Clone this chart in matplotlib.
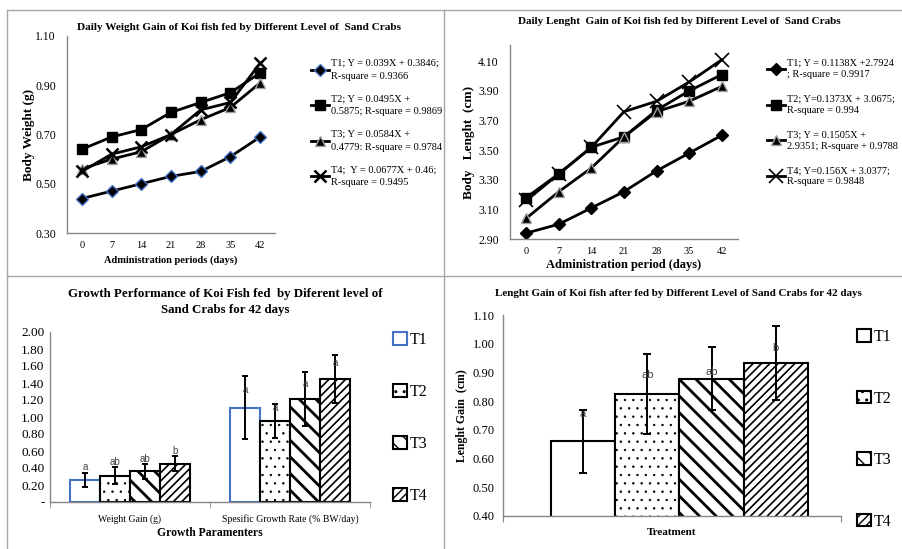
import matplotlib
matplotlib.use("Agg")
import matplotlib.pyplot as plt
from matplotlib.lines import Line2D
from matplotlib.patches import Patch
from matplotlib.ticker import FuncFormatter

plt.rcParams["font.family"] = ["Liberation Serif", "DejaVu Serif"]

# ---- data ----
DAYS = ["0", "7", "14", "21", "28", "35", "42"]

weight_t1 = [0.44, 0.47, 0.50, 0.53, 0.55, 0.61, 0.69]
weight_t2 = [0.64, 0.69, 0.72, 0.79, 0.83, 0.87, 0.95]
weight_t3 = [0.56, 0.60, 0.63, 0.70, 0.76, 0.81, 0.91]
weight_t4 = [0.55, 0.62, 0.65, 0.70, 0.80, 0.83, 0.99]
weight_labels = [
    "T1; Y = 0.039X + 0.3846;\nR-square = 0.9366",
    "T2; Y = 0.0495X +\n0.5875; R-square = 0.9869",
    "T3; Y = 0.0584X +\n0.4779: R-square = 0.9784",
    "T4;  Y = 0.0677X + 0.46;\nR-square = 0.9495",
]

length_t1 = [2.94, 3.00, 3.11, 3.22, 3.36, 3.48, 3.60]
length_t2 = [3.18, 3.34, 3.52, 3.59, 3.77, 3.90, 4.01]
length_t3 = [3.04, 3.22, 3.38, 3.59, 3.76, 3.83, 3.93]
length_t4 = [3.16, 3.34, 3.52, 3.76, 3.83, 3.96, 4.11]
length_labels = [
    "T1; Y = 0.1138X +2.7924\n; R-square = 0.9917",
    "T2; Y=0.1373X + 3.0675;\nR-square = 0.994",
    "T3; Y = 0.1505X +\n2.9351; R-square + 0.9788",
    "T4; Y=0.156X + 3.0377;\nR-square = 0.9848",
]

TREATMENTS = ["T1", "T2", "T3", "T4"]
GROWTH_PARAMS = ["Weight Gain (g)", "Spesific Growth Rate (% BW/day)"]
growth_mean = [[0.26, 1.11], [0.31, 0.95], [0.36, 1.21], [0.45, 1.45]]
growth_err = [[0.08, 0.37], [0.10, 0.20], [0.09, 0.32], [0.09, 0.28]]
growth_letters = [["a", "a"], ["ab", "a"], ["ab", "a"], ["b", "a"]]
growth_letter_y = [[0.41, 1.32], [0.47, 1.11], [0.50, 1.39], [0.60, 1.63]]

lgain_mean = [0.66, 0.825, 0.878, 0.933]
lgain_err = [0.11, 0.14, 0.11, 0.13]
lgain_letters = ["a", "ab", "ab", "b"]
lgain_letter_y = [0.756, 0.89, 0.90, 0.984]

W, H = 902, 549
fig = plt.figure(figsize=(W / 100, H / 100), dpi=100)


def fx(px):
    return px / W


def fy(py):
    return 1 - py / H


# panel frame lines
frame = "#a6a6a6"
for xs, ys in [((7, 902), (10, 10)), ((7, 7), (10, 549)),
               ((444, 444), (10, 549)), ((7, 902), (276, 276))]:
    fig.add_artist(Line2D([fx(x) for x in xs], [fy(y) for y in ys],
                          color=frame, lw=1))

spine_c = "#868686"


def style_axes(ax):
    for s in ("top", "right"):
        ax.spines[s].set_visible(False)
    for s in ("left", "bottom"):
        ax.spines[s].set_color(spine_c)
        ax.spines[s].set_linewidth(1)


def set_legend_linespacing(leg, ls):
    for t in leg.get_texts():
        t.set_linespacing(ls)


line_styles = [
    dict(marker="D", ms=6.5, mfc="black", mec="#4472c4", mew=1.0),
    dict(marker="s", ms=6.5, mfc="black", mec="black"),
    dict(marker="^", ms=7, mfc="black", mec="#a0a0a0", mew=1.0),
    dict(marker="x", ms=9, mec="black", mew=1.8),
]

# ---- top-left: daily weight ----
ax1 = fig.add_axes([fx(67), fy(233), fx(275) - fx(67), fy(36) - fy(233)])
style_axes(ax1)
xs = range(len(DAYS))
handles = []
for ys, st, lab in zip([weight_t1, weight_t2, weight_t3, weight_t4],
                       line_styles, weight_labels):
    h, = ax1.plot(xs, ys, color="black", lw=2, label=lab, **st)
    handles.append(h)
ax1.set_xlim(-0.5, 6.5)
ax1.set_ylim(0.3, 1.1)
ax1.set_yticks([0.3, 0.5, 0.7, 0.9, 1.1])
ax1.yaxis.set_major_formatter(FuncFormatter(lambda v, p: f"{v:.2f}"))
ax1.set_xticks(list(xs), DAYS)
ax1.tick_params(axis="x", length=0, labelsize=7.5, pad=6)
ax1.tick_params(axis="y", length=0, labelsize=8.5, pad=8)
ax1.set_ylabel("Body Weight (g)", labelpad=0, fontsize=9.5, fontweight="bold")
ax1.set_xlabel("Administration periods (days)", labelpad=4, fontsize=7.5, fontweight="bold")
fig.text(fx(239), fy(27), "Daily Weight Gain of Koi fish fed by Different Level of  Sand Crabs",
         ha="center", va="center", fontsize=8.1, fontweight="bold")
leg = fig.legend(handles=handles, loc="upper left", bbox_to_anchor=(fx(311), fy(59)),
                 frameon=False, fontsize=7.5, handlelength=1.7, handletextpad=0.2,
                 labelspacing=1.3, borderpad=0, borderaxespad=0)
set_legend_linespacing(leg, 1.55)

# ---- top-right: daily length ----
ax2 = fig.add_axes([fx(510), fy(239), fx(738) - fx(510), fy(45) - fy(239)])
style_axes(ax2)
line_styles2 = [dict(line_styles[0], mec="black"), line_styles[1], line_styles[2],
                dict(marker="x", ms=10, mec="black", mew=1.2)]
handles = []
for ys, st, lab in zip([length_t1, length_t2, length_t3, length_t4],
                       line_styles2, length_labels):
    h, = ax2.plot(xs, ys, color="black", lw=2, label=lab, **st)
    handles.append(h)
ax2.set_xlim(-0.5, 6.5)
ax2.set_ylim(2.9, 4.21)
ax2.set_yticks([2.9, 3.1, 3.3, 3.5, 3.7, 3.9, 4.1])
ax2.yaxis.set_major_formatter(FuncFormatter(lambda v, p: f"{v:.2f}"))
ax2.set_xticks(list(xs), DAYS)
ax2.tick_params(axis="x", length=0, labelsize=7.5, pad=6)
ax2.tick_params(axis="y", length=0, labelsize=8.5, pad=8)
ax2.set_ylabel("Body   Lenght  (cm)", labelpad=2, fontsize=9.5, fontweight="bold")
ax2.set_xlabel("Administration period (days)", labelpad=2, fontsize=9, fontweight="bold")
fig.text(fx(679), fy(22), "Daily Lenght  Gain of Koi fish fed by Different Level of  Sand Crabs",
         ha="center", va="center", fontsize=8.0, fontweight="bold")
leg = fig.legend(handles=handles, loc="upper left", bbox_to_anchor=(fx(767), fy(59)),
                 frameon=False, fontsize=7.5, handlelength=1.7, handletextpad=0.2,
                 labelspacing=1.5, borderpad=0, borderaxespad=0)
set_legend_linespacing(leg, 1.3)

# ---- bar styles ----
bar_styles = [
    dict(edgecolor="#4472c4", hatch=None, hlw=1.0),
    dict(edgecolor="black", hatch="..", hlw=0.5),
    dict(edgecolor="black", hatch="\\\\", hlw=2.0),
    dict(edgecolor="black", hatch="////", hlw=1.2),
]

# ---- bottom-left: growth performance ----
ax3 = fig.add_axes([fx(50), fy(502), fx(370) - fx(50), fy(332) - fy(502)])
style_axes(ax3)
bw = 0.1875
for i, st in enumerate(bar_styles):
    pos = [g + (i - 1.5) * bw for g in range(len(GROWTH_PARAMS))]
    with plt.rc_context({"hatch.linewidth": st["hlw"]}):
        ax3.bar(pos, growth_mean[i], width=bw, facecolor="white",
                edgecolor=st["edgecolor"], hatch=st["hatch"], lw=1.5, zorder=2)
    ax3.errorbar(pos, growth_mean[i], yerr=growth_err[i], fmt="none",
                 ecolor="black", elinewidth=1.4, capsize=2.5, capthick=1.4, zorder=3)
    for x, y, t in zip(pos, growth_letter_y[i], growth_letters[i]):
        ax3.text(x, y, t, ha="center", va="center", fontsize=7,
                 family="Liberation Sans", color="#404040", zorder=4)
ax3.set_xlim(-0.5, 1.5)
ax3.set_ylim(0, 2.0)
ax3.set_yticks([0.2 * k for k in range(11)])
ax3.yaxis.set_major_formatter(FuncFormatter(lambda v, p: "-" if abs(v) < 1e-9 else f"{v:.2f}"))
ax3.set_xticks([0, 1], GROWTH_PARAMS)
ax3.set_xticks([-0.5, 0.5, 1.5], minor=True)
ax3.tick_params(axis="x", which="major", length=0, labelsize=7, pad=9)
ax3.tick_params(axis="x", which="minor", length=4, color=spine_c)
ax3.tick_params(axis="y", length=0, labelsize=9.5, pad=4)
ax3.set_xlabel("Growth Paramenters", labelpad=2, fontsize=8.4, fontweight="bold")
fig.text(fx(225), fy(302), "Growth Performance of Koi Fish fed  by Diferent level of\nSand Crabs for 42 days",
         ha="center", va="center", fontsize=9.3, fontweight="bold", linespacing=1.45)
leg_handles = [Patch(facecolor="white", edgecolor=st["edgecolor"], hatch=st["hatch"], lw=1.5)
               for st in bar_styles]
fig.legend(leg_handles, TREATMENTS, loc="upper left", bbox_to_anchor=(fx(393), fy(332)),
           frameon=False, fontsize=11.5, handlelength=0.85, handleheight=0.85,
           handletextpad=0.2, labelspacing=2.25, borderpad=0, borderaxespad=0)

# ---- bottom-right: length gain ----
ax4 = fig.add_axes([fx(503), fy(516), fx(841) - fx(503), fy(315) - fy(516)])
style_axes(ax4)
bw4 = 0.19
shift = 0.022
for i, st in enumerate(bar_styles):
    x = shift + (i - 1.5) * bw4
    with plt.rc_context({"hatch.linewidth": st["hlw"]}):
        ax4.bar([x], [lgain_mean[i]], width=bw4, facecolor="white", edgecolor="black",
                hatch=st["hatch"], lw=1.5, zorder=2)
    ax4.errorbar([x], [lgain_mean[i]], yerr=[lgain_err[i]], fmt="none",
                 ecolor="black", elinewidth=1.4, capsize=3, capthick=1.4, zorder=3)
    ax4.text(x, lgain_letter_y[i], lgain_letters[i], ha="center", va="center",
             fontsize=8, family="Liberation Sans", color="#404040", zorder=4)
ax4.set_xlim(-0.5, 0.5)
ax4.set_ylim(0.4, 1.1)
ax4.set_yticks([0.4 + 0.1 * k for k in range(8)])
ax4.yaxis.set_major_formatter(FuncFormatter(lambda v, p: f"{v:.2f}"))
ax4.set_xticks([-0.5, 0.5])
ax4.set_xticklabels(["", ""])
ax4.tick_params(axis="x", length=4, color=spine_c)
ax4.tick_params(axis="y", length=0, labelsize=9, pad=6)
ax4.set_xlabel("Treatment", labelpad=1, fontsize=8, fontweight="bold")
ax4.set_ylabel("Lenght Gain  (cm)", labelpad=3, fontsize=8.5, fontweight="bold")
fig.text(fx(678), fy(294), "Lenght Gain of Koi fish after fed by Different Level of Sand Crabs for 42 days",
         ha="center", va="center", fontsize=7.9, fontweight="bold")
leg_handles = [Patch(facecolor="white", edgecolor="black", hatch=st["hatch"], lw=1.5)
               for st in bar_styles]
fig.legend(leg_handles, TREATMENTS, loc="upper left", bbox_to_anchor=(fx(857), fy(329)),
           frameon=False, fontsize=11.5, handlelength=0.85, handleheight=0.85,
           handletextpad=0.2, labelspacing=2.85, borderpad=0, borderaxespad=0)

fig.savefig("out.png", dpi=100)
